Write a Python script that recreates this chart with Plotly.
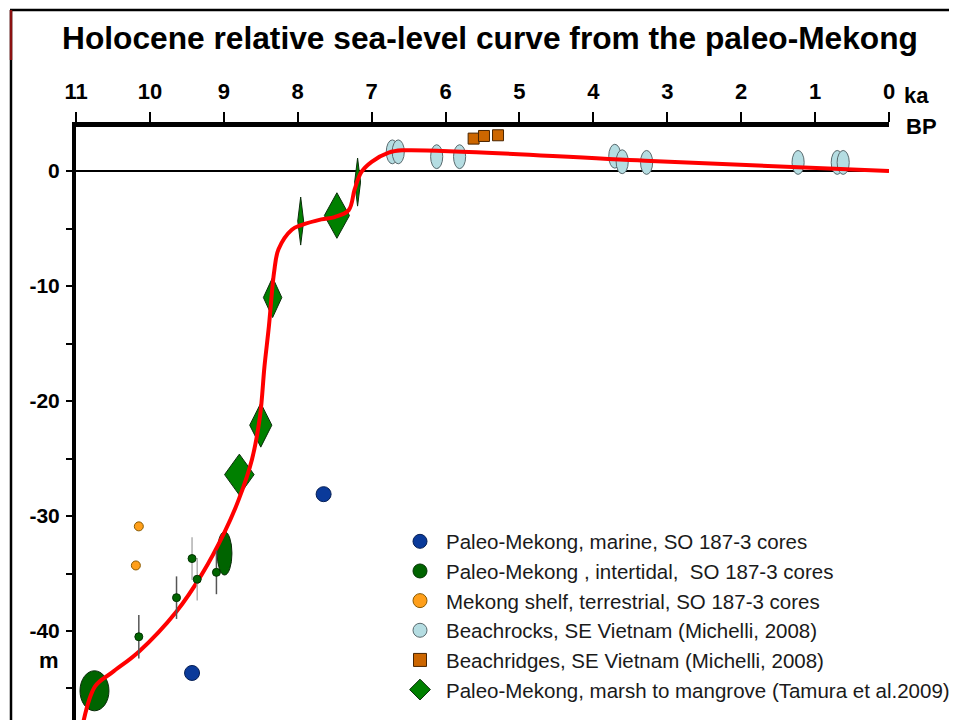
import plotly.graph_objects as go

# ---------------- data (age in ka BP, relative sea level in m) ----------------
curve_age = [10.92, 10.74, 10.51, 10.15, 9.64, 9.30, 8.99, 8.80, 8.62, 8.51, 8.45,
             8.39, 8.32, 8.26, 8.08, 7.95, 7.68, 7.50, 7.31, 7.23, 7.14, 7.00,
             6.77, 6.59, 3.30, 0.00]
curve_rsl = [-48.5, -44.8, -43.6, -41.8, -38.3, -35.1, -31.4, -28.6, -25.1, -21.3, -17.0,
             -13.5, -8.8, -6.8, -5.1, -4.7, -4.2, -4.0, -3.4, -1.6, -0.1, 0.8,
             1.6, 1.8, 0.9, 0.0]

marine_age = [9.43, 7.65]
marine_rsl = [-43.65, -28.1]

inter_age_dark = [10.15, 9.64, 9.10]
inter_rsl_dark = [-40.5, -37.1, -34.9]
inter_err_dark = [1.9, 1.85, 1.9]
inter_age_light = [9.43, 9.36]
inter_rsl_light = [-33.7, -35.5]
inter_err_light = [1.85, 1.85]

inter_ell_age = [10.75, 8.99]
inter_ell_rsl = [-45.2, -33.25]
inter_ell_age_err = [0.196, 0.10]
inter_ell_rsl_err = [1.74, 1.88]

terr_age = [10.15, 10.19]
terr_rsl = [-30.9, -34.3]

rock_age = [6.72, 6.64, 6.12, 5.81, 3.71, 3.61, 3.28, 1.23, 0.70, 0.62]
rock_rsl = [1.67, 1.67, 1.25, 1.25, 1.29, 0.81, 0.75, 0.75, 0.75, 0.75]
rock_age_err = 0.082
rock_rsl_err = 1.04

ridge_age = [5.62, 5.48, 5.29]
ridge_rsl = [2.82, 3.05, 3.11]

tamura_age = [8.79, 8.50, 8.34, 7.96, 7.47, 7.19]
tamura_rsl = [-26.4, -22.1, -11.0, -4.35, -3.87, -0.96]
tamura_age_err = [0.20, 0.15, 0.125, 0.04, 0.17, 0.04]
tamura_rsl_err = [1.78, 1.91, 1.74, 2.09, 1.98, 2.09]

x_tickvals = list(range(0, 12))
x_ticktext = [str(v) for v in x_tickvals]
y_tickvals = [-45, -40, -35, -30, -25, -20, -15, -10, -5, 0]
y_ticktext = ["", "-40", "", "-30", "", "-20", "", "-10", "", "0"]

legend_names = [
    "Paleo-Mekong, marine, SO 187-3 cores",
    "Paleo-Mekong , intertidal, \u00a0SO 187-3 cores",
    "Mekong shelf, terrestrial, SO 187-3 cores",
    "Beachrocks, SE Vietnam (Michelli, 2008)",
    "Beachridges, SE Vietnam (Michelli, 2008)",
    "Paleo-Mekong, marsh to mangrove (Tamura et al.2009)",
]

# ---------------- styles / layout ----------------
OFF = 8                      # default page (body) margin of the html page
W, H = 957 - OFF, 720 - OFF
ML, MR, MT, MB = 68, 68, 119, 0
FONT = "Liberation Sans, Arial, sans-serif"
C_MARINE = "#0a3a9a"
C_INTER = "#006400"
C_TERR = "#ff9f1a"
C_ROCK = "#b5dde2"
C_RIDGE = "#cc6600"
C_TAMURA = "#008000"
C_CURVE = "#ff0000"

pw, ph = W - ML - MR, H - MT - MB
def px(xw):   # window pixel -> paper x
    return (xw - OFF - ML) / pw
def py(yw):   # window pixel -> paper y
    return (H - MB - (yw - OFF)) / ph

fig = go.Figure()

# Tamura diamonds (polygons spanning the age/depth uncertainty)
dx, dy = [], []
for a, r, ea, er in zip(tamura_age, tamura_rsl, tamura_age_err, tamura_rsl_err):
    dx += [a, a - ea, a, a + ea, a, None]
    dy += [r + er, r, r - er, r, r + er, None]
fig.add_trace(go.Scatter(x=dx, y=dy, mode="lines", fill="toself",
                         fillcolor=C_TAMURA, line=dict(color="#0b2e0b", width=1),
                         showlegend=False, hoverinfo="skip"))

# red sea-level curve
fig.add_trace(go.Scatter(x=curve_age, y=curve_rsl, mode="lines",
                         line=dict(color=C_CURVE, width=4, shape="spline", smoothing=1.0),
                         showlegend=False, hoverinfo="skip"))

# intertidal points with error bars
fig.add_trace(go.Scatter(x=inter_age_dark, y=inter_rsl_dark, mode="markers",
                         marker=dict(size=8, color=C_INTER, line=dict(color="#003300", width=1)),
                         error_y=dict(type="data", array=inter_err_dark, color="#555555",
                                      thickness=1.5, width=0),
                         showlegend=False))
fig.add_trace(go.Scatter(x=inter_age_light, y=inter_rsl_light, mode="markers",
                         marker=dict(size=8, color=C_INTER, line=dict(color="#003300", width=1)),
                         error_y=dict(type="data", array=inter_err_light, color="#b0b0b0",
                                      thickness=1.5, width=0),
                         showlegend=False))
# terrestrial
fig.add_trace(go.Scatter(x=terr_age, y=terr_rsl, mode="markers",
                         marker=dict(size=9, color=C_TERR, line=dict(color="#8a5a00", width=1)),
                         showlegend=False))
# marine
fig.add_trace(go.Scatter(x=marine_age, y=marine_rsl, mode="markers",
                         marker=dict(size=15, color=C_MARINE, line=dict(color="#061f55", width=1)),
                         showlegend=False))
# beachridges
fig.add_trace(go.Scatter(x=ridge_age, y=ridge_rsl, mode="markers",
                         marker=dict(size=11, symbol="square", color=C_RIDGE,
                                     line=dict(color="#4a2500", width=1)),
                         showlegend=False))

# ellipses (beachrocks + intertidal error ellipses)
shapes = []
for a, r in zip(rock_age, rock_rsl):
    shapes.append(dict(type="circle", xref="x", yref="y", layer="between",
                       x0=a - rock_age_err, x1=a + rock_age_err,
                       y0=r - rock_rsl_err, y1=r + rock_rsl_err,
                       fillcolor=C_ROCK, line=dict(color="#5a6a6e", width=1)))
for a, r, ea, er in zip(inter_ell_age, inter_ell_rsl, inter_ell_age_err, inter_ell_rsl_err):
    shapes.append(dict(type="circle", xref="x", yref="y", layer="between",
                       x0=a - ea, x1=a + ea, y0=r - er, y1=r + er,
                       fillcolor=C_INTER, line=dict(color="#0b2a0b", width=1)))

# page frame (top and left border lines, small red mark)
shapes.append(dict(type="line", xref="paper", yref="paper", x0=px(10), x1=px(970),
                   y0=py(10), y1=py(10), line=dict(color="black", width=2.5)))
shapes.append(dict(type="line", xref="paper", yref="paper", x0=px(11), x1=px(11),
                   y0=py(10), y1=py(730), line=dict(color="black", width=2.5)))
shapes.append(dict(type="line", xref="paper", yref="paper", x0=px(11), x1=px(11),
                   y0=py(10), y1=py(60), line=dict(color="#8b1010", width=2.5)))

# legend-only traces
leg_styles = [
    dict(symbol="circle", size=14, color=C_MARINE, line=dict(color="#061f55", width=1)),
    dict(symbol="circle", size=14, color=C_INTER, line=dict(color="#003300", width=1)),
    dict(symbol="circle", size=14, color=C_TERR, line=dict(color="#8a5a00", width=1)),
    dict(symbol="circle", size=14, color=C_ROCK, line=dict(color="#5a6a6e", width=1)),
    dict(symbol="square", size=13, color=C_RIDGE, line=dict(color="#4a2500", width=1)),
    dict(symbol="diamond", size=16, color=C_TAMURA, line=dict(color="#0b2e0b", width=1)),
]
for name, st in zip(legend_names, leg_styles):
    fig.add_trace(go.Scatter(x=[None], y=[None], mode="markers", name=name,
                             marker=st, showlegend=True))

lab_font = dict(family=FONT, size=22, color="black", weight="bold")
annotations = [
    dict(text="ka", xref="paper", yref="paper", x=px(902), y=py(95), showarrow=False,
         xanchor="left", yanchor="middle", font=lab_font),
    dict(text="BP", xref="paper", yref="paper", x=px(904), y=py(126), showarrow=False,
         xanchor="left", yanchor="middle", font=lab_font),
    dict(text="m", xref="paper", yref="paper", x=px(61), y=py(660), showarrow=False,
         xanchor="right", yanchor="middle", font=lab_font),
]

fig.update_layout(
    width=W, height=H,
    margin=dict(l=ML, r=MR, t=MT, b=MB, autoexpand=False),
    paper_bgcolor="white", plot_bgcolor="white",
    title=dict(text="Holocene relative sea-level curve from the paleo-Mekong",
               x=(490 - OFF) / W, xanchor="center", xref="container",
               y=1 - (38 - OFF) / H, yanchor="middle", yref="container",
               font=dict(family=FONT, size=31.7, color="black", weight="bold")),
    showlegend=True,
    legend=dict(xref="container", yref="container", x=(394 - OFF) / W,
                y=1 - (521.5 - OFF) / H, xanchor="left", yanchor="top",
                bgcolor="rgba(0,0,0,0)", itemwidth=42,
                font=dict(family=FONT, size=20.5, color="#1a1a1a"),
                borderwidth=0, tracegroupgap=0),
    shapes=shapes,
    annotations=annotations,
    xaxis=dict(side="top", range=[11, 0], tickmode="array", tickvals=x_tickvals,
               ticktext=x_ticktext, ticks="outside", ticklen=10, tickwidth=1.5,
               tickcolor="black", showline=True, linewidth=5, linecolor="black",
               showgrid=False, zeroline=False, ticklabelstandoff=4,
               tickfont=dict(family=FONT, size=22, color="black", weight="bold")),
    yaxis=dict(range=[-47.74, 3.83], tickmode="array", tickvals=y_tickvals,
               ticktext=y_ticktext, ticks="outside", ticklen=6, tickwidth=1.5,
               tickcolor="black", showline=True, linewidth=4, linecolor="black",
               showgrid=False, zeroline=True, zerolinecolor="black", zerolinewidth=1.5,
               ticklabelstandoff=2,
               tickfont=dict(family=FONT, size=21, color="black", weight="bold")),
)

fig.write_html("out.html")
